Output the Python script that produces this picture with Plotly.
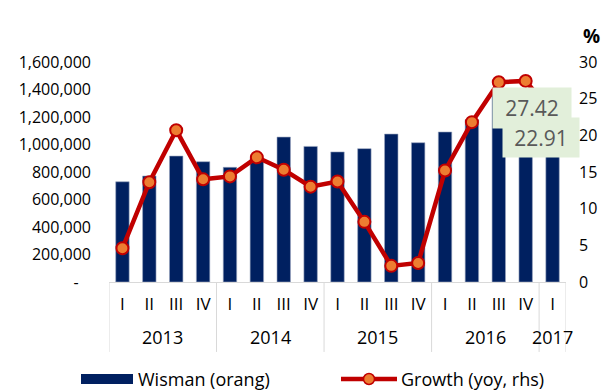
import plotly.graph_objects as go

# Quarterly foreign tourist arrivals (Wisman) and year-on-year growth
quarters = ["I", "II", "III", "IV", "I", "II", "III", "IV", "I", "II", "III", "IV",
            "I", "II", "III", "IV", "I"]
years = ["2013", "2013", "2013", "2013", "2014", "2014", "2014", "2014",
         "2015", "2015", "2015", "2015", "2016", "2016", "2016", "2016", "2017"]
wisman = [729000, 771000, 916000, 875000, 834000, 902000, 1054000, 986000,
          946000, 970000, 1076000, 1013000, 1091000, 1180000, 1370000, 1291000, 1341000]
growth = [4.6, 13.6, 20.7, 14.0, 14.4, 17.0, 15.3, 13.0,
          13.7, 8.2, 2.2, 2.6, 15.2, 21.8, 27.24, 27.42, 22.91]
labelled_points = [15, 16]

left_ticks = [0, 200000, 400000, 600000, 800000, 1000000, 1200000, 1400000, 1600000]
right_ticks = [0, 5, 10, 15, 20, 25, 30]

FONT = "Open Sans"
NAVY = "#002060"
RED = "#C00000"
ORANGE = "#ED7D31"
GRID_GREY = "#D9D9D9"

idx = list(range(len(quarters)))

fig = go.Figure()
fig.add_trace(go.Bar(
    x=idx, y=wisman, name="Wisman (orang)", width=0.5,
    marker=dict(color=NAVY, line=dict(color="#9AA6C0", width=0.6)),
    yaxis="y", showlegend=False,
))
fig.add_trace(go.Scatter(
    x=idx, y=growth, name="Growth (yoy, rhs)", mode="lines+markers",
    line=dict(color=RED, width=4.5),
    marker=dict(size=12, color=ORANGE, line=dict(color=RED, width=2)),
    yaxis="y2", showlegend=False,
))

def fmt_left(v):
    return "-\u00a0\u00a0\u00a0" if v == 0 else f"{v:,}"

fig.update_layout(
    width=610, height=391,
    margin=dict(l=109, r=44, t=62, b=109),
    paper_bgcolor="white", plot_bgcolor="white",
    font=dict(family=FONT, color="#000000", size=15),
    bargap=0.5,
    xaxis=dict(
        range=[-0.5, len(idx) - 0.5],
        tickvals=idx, ticktext=quarters,
        tickfont=dict(size=17, color="#000000"),
        showgrid=False, zeroline=False,
        showline=True, linecolor=GRID_GREY, linewidth=1,
        ticks="", ticklabelstandoff=7,
    ),
    yaxis=dict(
        range=[0, 1600000],
        tickvals=left_ticks, ticktext=[fmt_left(v) for v in left_ticks],
        tickfont=dict(size=16, color="#000000"),
        showgrid=False, zeroline=False, showline=False,
        ticks="", ticklabelstandoff=17,
    ),
    yaxis2=dict(
        range=[0, 30], overlaying="y", side="right",
        tickvals=right_ticks, ticktext=[str(v) for v in right_ticks],
        tickfont=dict(size=16, color="#000000"),
        showgrid=False, zeroline=False, showline=False,
        ticks="", ticklabelstandoff=12,
    ),
)

shapes = []
annotations = []

# Year groups of the two-level category axis
groups = []
for i, yr in enumerate(years):
    if groups and groups[-1][0] == yr:
        groups[-1][2] = i
    else:
        groups.append([yr, i, i])

bottom = -0.318
for yr, start, end in groups:
    shapes.append(dict(type="line", xref="x", yref="paper",
                       x0=start - 0.5, x1=start - 0.5, y0=0, y1=bottom,
                       line=dict(color=GRID_GREY, width=1)))
    annotations.append(dict(x=(start + end) / 2, y=-0.25, xref="x", yref="paper",
                            text=yr, showarrow=False,
                            font=dict(size=18, color="#000000"),
                            xanchor="center", yanchor="middle"))
shapes.append(dict(type="line", xref="x", yref="paper",
                   x0=len(idx) - 0.5, x1=len(idx) - 0.5, y0=0, y1=bottom,
                   line=dict(color=GRID_GREY, width=1)))

# "%" unit label above the right axis
annotations.append(dict(x=1.055, y=1.118, xref="paper", yref="paper", text="<b>%</b>",
                        showarrow=False, font=dict(size=19, color="#000000"),
                        xanchor="center", yanchor="middle"))

# Value labels for the latest growth points
label_boxes = {15: dict(xshift=6, yshift=-27, width=78, height=40),
               16: dict(xshift=-12, yshift=-24, width=76, height=39)}
for i in labelled_points:
    b = label_boxes[i]
    annotations.append(dict(x=i, y=growth[i], xref="x", yref="y2",
                            text=f"{growth[i]:.2f}", showarrow=False,
                            font=dict(size=21, color="#595959"),
                            bgcolor="#E2EFDA", borderpad=0,
                            width=b["width"], height=b["height"],
                            xshift=b["xshift"], yshift=b["yshift"],
                            xanchor="center", yanchor="middle"))

# Legend drawn below the axis
def px_x(p):
    return (p - 109) / 457

def px_y(p):
    return (282 - p) / 220

shapes.append(dict(type="rect", xref="paper", yref="paper",
                   x0=px_x(81), x1=px_x(133), y0=px_y(384), y1=px_y(374),
                   fillcolor=NAVY, line=dict(width=0)))
annotations.append(dict(x=px_x(136), y=px_y(379), xref="paper", yref="paper",
                        text=fig.data[0].name, showarrow=False,
                        font=dict(size=18, color="#000000"),
                        xanchor="left", yanchor="middle"))
shapes.append(dict(type="line", xref="paper", yref="paper",
                   x0=px_x(341), x1=px_x(397), y0=px_y(379), y1=px_y(379),
                   line=dict(color=RED, width=4.5)))
shapes.append(dict(type="circle", xref="paper", yref="paper",
                   x0=px_x(363.5), x1=px_x(374.5), y0=px_y(384.5), y1=px_y(373.5),
                   fillcolor=ORANGE, line=dict(color=RED, width=1.5)))
annotations.append(dict(x=px_x(399), y=px_y(379), xref="paper", yref="paper",
                        text=fig.data[1].name, showarrow=False,
                        font=dict(size=18, color="#000000"),
                        xanchor="left", yanchor="middle"))

fig.update_layout(shapes=shapes, annotations=annotations)

fig.write_html("out.html")
